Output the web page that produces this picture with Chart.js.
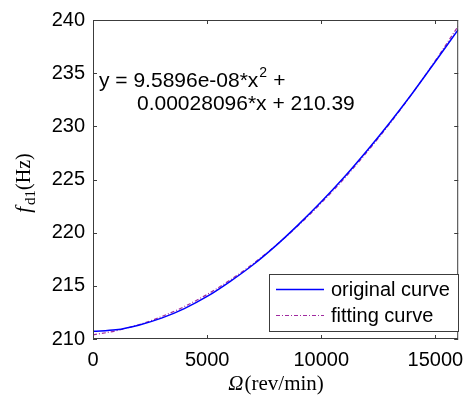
<!DOCTYPE html>
<html>
<head>
<meta charset="utf-8">
<script src="https://cdn.jsdelivr.net/npm/chart.js@4"></script>
<style>
  html, body { margin: 0; padding: 0; background: #fff; }
  canvas { display: block; }
</style>
</head>
<body>
<canvas id="c" width="473" height="400"></canvas>
<script>
// ---- data ----
var speeds = [0, 1000, 2000, 3000, 4000, 5000, 6000, 7000, 8000, 9000, 10000, 11000, 12000, 13000, 14000, 15000, 16000];
var originalCurve = [210.72, 210.86, 211.30, 211.96, 212.86, 214.00, 215.40, 216.96, 218.76, 220.76, 222.90, 225.20, 227.70, 230.34, 233.14, 236.10, 239.10];
var fittingCurve = [210.39, 210.77, 211.34, 212.10, 213.05, 214.19, 215.53, 217.06, 218.78, 220.69, 222.79, 225.08, 227.57, 230.25, 233.12, 236.18, 239.43];
var xTicks = [0, 5000, 10000, 15000];
var yTicks = [210, 215, 220, 225, 230, 235, 240];

var sans = '"Liberation Sans", Arial, sans-serif';
var serif = '"Liberation Serif", "Times New Roman", serif';
var frameColor = '#3c3c3c';

function pts(ys) {
    return speeds.map((x, i) => ({ x: x, y: ys[i] }));
}

// frame, inward ticks, legend, equation and axis titles
var decorPlugin = {
    id: 'decor',
    afterDraw(chart) {
        var ctx = chart.ctx;
        var a = chart.chartArea;
        var sx = chart.scales.x, sy = chart.scales.y;
        ctx.save();
        ctx.strokeStyle = frameColor;
        ctx.lineWidth = 1;
        ctx.strokeRect(a.left + 0.5, a.top + 0.5, a.right - a.left - 1, a.bottom - a.top - 1);
        var tl = 4;
        ctx.beginPath();
        xTicks.forEach(v => {
            var px = Math.round(sx.getPixelForValue(v)) + 0.5;
            ctx.moveTo(px, a.bottom); ctx.lineTo(px, a.bottom - tl);
            ctx.moveTo(px, a.top); ctx.lineTo(px, a.top + tl);
        });
        yTicks.forEach(v => {
            var py = Math.round(sy.getPixelForValue(v)) + 0.5;
            ctx.moveTo(a.left, py); ctx.lineTo(a.left + tl, py);
            ctx.moveTo(a.right, py); ctx.lineTo(a.right - tl, py);
        });
        ctx.stroke();

        // equation
        ctx.fillStyle = '#000';
        ctx.textBaseline = 'alphabetic';
        ctx.textAlign = 'left';
        ctx.font = '21px ' + sans;
        var t1 = 'y = 9.5896e-08*x';
        ctx.fillText(t1, 99, 87);
        var w1 = ctx.measureText(t1).width;
        ctx.font = '14px ' + sans;
        ctx.fillText('2', 99 + w1 + 1, 77);
        ctx.font = '21px ' + sans;
        ctx.fillText(' +', 99 + w1 + 9, 87);
        ctx.fillText('0.00028096*x + 210.39', 137, 110);

        // legend
        var lx = 269, ly = 274, lw = 189, lh = 57;
        ctx.fillStyle = '#fff';
        ctx.fillRect(lx, ly, lw, lh);
        ctx.strokeStyle = frameColor;
        ctx.strokeRect(lx + 0.5, ly + 0.5, lw, lh);
        chart.data.datasets.forEach((ds, i) => {
            var yy = ly + 15 + i * 26;
            ctx.beginPath();
            ctx.strokeStyle = ds.borderColor;
            ctx.lineWidth = ds.borderWidth;
            ctx.setLineDash(ds.borderDash || []);
            ctx.moveTo(276, yy + 0.5);
            ctx.lineTo(324, yy + 0.5);
            ctx.stroke();
            ctx.setLineDash([]);
            ctx.fillStyle = '#000';
            ctx.font = '20px ' + sans;
            ctx.textBaseline = 'middle';
            ctx.fillText(ds.label, 331, yy + 1);
        });

        // x title
        ctx.textBaseline = 'alphabetic';
        var om = '\u03A9';
        ctx.font = '21px ' + serif;
        var rest = '(rev/min)';
        var wr = ctx.measureText(rest).width;
        ctx.font = 'italic 21px ' + serif;
        var wo = ctx.measureText(om).width;
        var cx = (a.left + a.right) / 2 - (wo + wr) / 2;
        ctx.fillText(om, cx, 390);
        ctx.font = '21px ' + serif;
        ctx.fillText(rest, cx + wo + 1, 390);

        // y title (rotated)
        ctx.translate(30, 183);
        ctx.rotate(-Math.PI / 2);
        ctx.font = 'italic 21px ' + serif;
        var wf = ctx.measureText('f').width;
        ctx.font = '15px ' + serif;
        var wd = ctx.measureText('d1').width;
        ctx.font = '20px ' + serif;
        var wh = ctx.measureText('(Hz)').width;
        var sxp = -(wf + 2 + wd + wh) / 2;
        ctx.font = 'italic 21px ' + serif;
        ctx.fillText('f', sxp, 0);
        ctx.font = '15px ' + serif;
        ctx.fillText('d1', sxp + wf + 2, 5);
        ctx.font = '20px ' + serif;
        ctx.fillText('(Hz)', sxp + wf + 2 + wd, 0);
        ctx.restore();
    }
};

new Chart(document.getElementById('c'), {
    type: 'line',
    data: {
        datasets: [{
            label: 'original curve',
            data: pts(originalCurve),
            borderColor: '#0000ff',
            borderWidth: 1.5,
            pointRadius: 0,
            cubicInterpolationMode: 'monotone'
        }, {
            label: 'fitting curve',
            data: pts(fittingCurve),
            borderColor: '#a02aa0',
            borderWidth: 1.2,
            borderDash: [4, 2, 1, 2],
            pointRadius: 0,
            cubicInterpolationMode: 'monotone'
        }]
    },
    options: {
        responsive: false,
        animation: false,
        layout: { padding: { left: 0, top: 15, right: 13, bottom: 0 } },
        plugins: { legend: { display: false }, tooltip: { enabled: false } },
        scales: {
            x: {
                type: 'linear',
                min: 0, max: 16000,
                grid: { display: false, drawTicks: false },
                border: { display: false },
                afterBuildTicks: s => { s.ticks = xTicks.map(v => ({ value: v })); },
                afterFit: s => { s.height = 61; },
                ticks: { color: '#000', padding: 9, maxRotation: 0, font: { family: sans, size: 20 },
                         callback: v => String(v) }
            },
            y: {
                min: 210, max: 240,
                grid: { display: false, drawTicks: false },
                border: { display: false },
                afterBuildTicks: s => { s.ticks = yTicks.map(v => ({ value: v })); },
                afterFit: s => { s.width = 93; },
                ticks: { color: '#000', padding: 8, font: { family: sans, size: 20 },
                         callback: v => String(v) }
            }
        }
    },
    plugins: [decorPlugin]
});
</script>
</body>
</html>
